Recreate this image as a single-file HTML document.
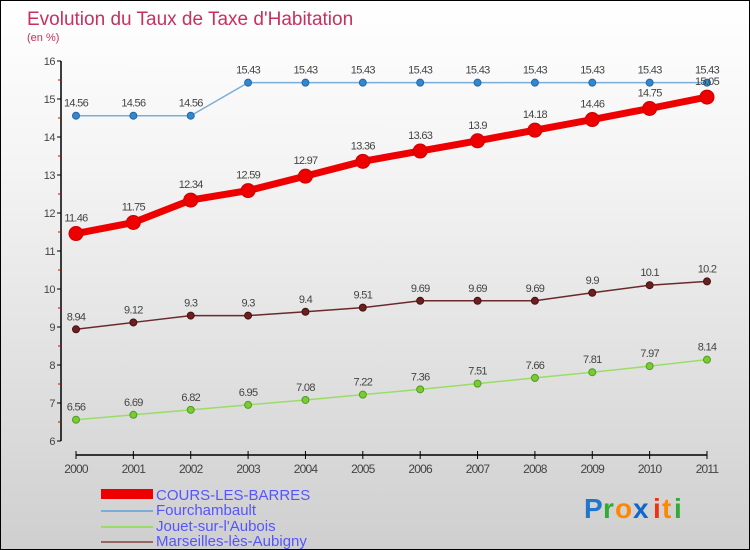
<!DOCTYPE html>
<html><head><meta charset="utf-8"><style>
body{margin:0}
#c{width:748px;height:548px;border:1px solid #000;background:linear-gradient(#fff,#f4f4f4 30%,#cfcfcf);position:relative;overflow:hidden;font-family:"Liberation Sans",sans-serif}
</style></head><body>
<div id="c">
<svg width="748" height="548" style="position:absolute;left:0;top:0" id="svg">
<text x="26" y="24" font-size="19" fill="#c8305e">Evolution du Taux de Taxe d'Habitation</text>
<text x="26" y="40" font-size="11" fill="#c8305e">(en %)</text>
<g id="axes"></g><g id="series"></g>
<g>
<rect x="100" y="488" width="52" height="10" fill="#e00"/>
<text x="155" y="499" font-size="15" fill="#55f">COURS-LES-BARRES</text>
<line x1="100" y1="538" x2="152" y2="538" stroke="#8aa" stroke-width="0"/>
<line x1="100" y1="510" x2="152" y2="510" stroke="#7aaed6" stroke-width="2"/>
<text x="155" y="514" font-size="15" fill="#55f">Fourchambault</text>
<line x1="100" y1="526" x2="152" y2="526" stroke="#99dd66" stroke-width="2"/>
<text x="155" y="530" font-size="15" fill="#55f">Jouet-sur-l'Aubois</text>
<line x1="100" y1="541" x2="152" y2="541" stroke="#996666" stroke-width="2"/>
<text x="155" y="545" font-size="15" fill="#55f">Marseilles-lès-Aubigny</text>
</g>
<g font-size="28" font-weight="bold">
<text x="583" y="517" fill="#2277cc">P</text><text x="602" y="517" fill="#33aa33">r</text><text x="614" y="517" fill="#ff8800">o</text><text x="632" y="517" fill="#1166cc">x</text><text x="652" y="517" fill="#ee3311">i</text><text x="661" y="517" fill="#ff8800">t</text><text x="673" y="517" fill="#33aa33">i</text>
</g>
</svg>
</div>
<script>
const years=["2000","2001","2002","2003","2004","2005","2006","2007","2008","2009","2010","2011"];
const cours=[11.46,11.75,12.34,12.59,12.97,13.36,13.63,13.9,14.18,14.46,14.75,15.05];
const fourch=[14.56,14.56,14.56,15.43,15.43,15.43,15.43,15.43,15.43,15.43,15.43,15.43];
const jouet=[6.56,6.69,6.82,6.95,7.08,7.22,7.36,7.51,7.66,7.81,7.97,8.14];
const marseilles=[8.94,9.12,9.3,9.3,9.4,9.51,9.69,9.69,9.69,9.9,10.1,10.2];
const yTicks=[6,7,8,9,10,11,12,13,14,15,16];
const NS="http://www.w3.org/2000/svg";
const x=i=>75+i*(706-75)/11;
const y=v=>440-(v-6)*38;
function mk(t,a,p){const e=document.createElementNS(NS,t);for(const k in a)e.setAttribute(k,a[k]);p.appendChild(e);return e;}
const ax=document.getElementById('axes');
let l=mk('line',{x1:60,y1:y(16),x2:60,y2:440,stroke:'#000','stroke-width':1.5},ax);


yTicks.forEach(v=>{
 mk('line',{x1:56,y1:y(v),x2:60,y2:y(v),stroke:'#000'},ax);
 if(v<16)mk('line',{x1:57,y1:y(v+0.5),x2:60,y2:y(v+0.5),stroke:'#d00'},ax);
 const t=mk('text',{x:54,y:y(v)+4,'font-size':11,fill:'#444','text-anchor':'end','letter-spacing':'-0.5'},ax);t.textContent=v;
 
 
});
l=mk('line',{x1:75,y1:454,x2:706,y2:454,stroke:'#000','stroke-width':1.5},ax);


years.forEach((yr,i)=>{
 mk('line',{x1:x(i),y1:450,x2:x(i),y2:458,stroke:'#000'},ax);
 const t=mk('text',{x:x(i),y:472,'font-size':12,fill:'#444','text-anchor':'middle','letter-spacing':'-0.8'},ax);t.textContent=yr;
 
 
});
const sg=document.getElementById('series');
function series(data,name,color,w,r,dot,dotStroke){
 const g=mk('g',{},sg);
 
 
 const p=mk('polyline',{points:data.map((v,i)=>x(i)+','+y(v)).join(' '),fill:'none',stroke:color,'stroke-width':w,'stroke-linejoin':'round'},g);
 
 
 data.forEach((v,i)=>{
  const c=mk('circle',{cx:x(i),cy:y(v),r:r,fill:dot,stroke:dotStroke,'stroke-width':1},g);
  
  
  const t=mk('text',{x:x(i),y:y(v)-9-(r>4?3:0),'font-size':11,fill:'#444','text-anchor':'middle','letter-spacing':'-0.7'},g);
  t.textContent=v;
  
  
 });
}
series(jouet,'jouet','#99dd66',1.5,3.5,'#77cc33','#559922');
series(marseilles,'marseilles','#6b2a2a',1.5,3.5,'#6b2020','#4a1010');
series(fourch,'fourchambault','#7aaed6',1.5,3.5,'#3388cc','#2266aa');
series(cours,'cours','#ee0000',7,7,'#ee0000','#cc0000');
</script>
</body></html>
